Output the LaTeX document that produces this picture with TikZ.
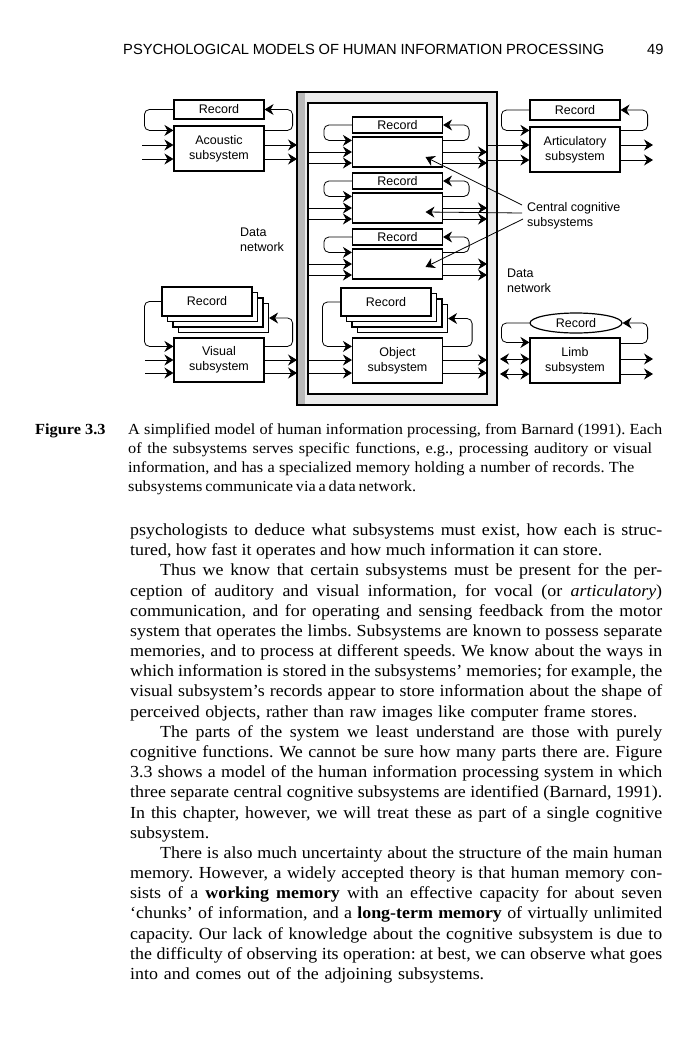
\documentclass[tikz,border=0pt]{standalone}
\usepackage{fontspec}
\setmainfont{Liberation Serif}[FakeStretch=1.06]
\setsansfont{Liberation Sans}
\usetikzlibrary{arrows.meta,calc,shapes.geometric}
\frenchspacing
\newcommand\diagf{\fontsize{12.5}{15}\selectfont\sffamily}
\newcommand\bodyf{\fontsize{16.9}{20}\selectfont}
\newcommand\capf{\fontsize{15.4}{19}\selectfont}
\newcommand\BL[1]{\makebox[532pt][s]{#1}}
\begin{document}
\begin{tikzpicture}[x=1pt,y=-1pt,
  bx/.style={draw, line width=1.2pt, fill=white, minimum width=90pt, inner sep=0pt, font=\diagf, align=center},
  sh/.style={draw, line width=1.2pt, fill=white, minimum width=90pt, inner sep=0pt},
  ln/.style={line width=0.8pt},
  tip/.tip={Stealth[length=9pt,width=11pt,inset=3pt]},
  ar/.style={ln, -tip},
  dar/.style={ln, tip-tip},
  lp/.style={ln, -tip, rounded corners=5pt},
  dlbl/.style={font=\diagf, align=left, inner sep=0pt, anchor=west},
  bodyl/.style={anchor=base west, inner sep=0pt, font=\bodyf},
  capl/.style={anchor=base west, inner sep=0pt, font=\capf}]
\useasboundingbox (0,0) rectangle (700,1039);
\fill[white] (0,0) rectangle (700,1039);

% header
\node[anchor=base west, inner sep=0pt, font=\fontsize{14.7}{16}\selectfont\sffamily] (hd) at (123,54) {\makebox[481pt][s]{PSYCHOLOGICAL MODELS OF HUMAN INFORMATION PROCESSING}};
\node[anchor=base west, inner sep=0pt, font=\fontsize{14.7}{16}\selectfont\sffamily] (pg) at (647,54) {49};

% central frame
\fill[gray!16] (297,92) rectangle (497,405);
\fill[gray!55] (297,92) rectangle (305,405);
\draw[line width=1.2pt] (297,92) rectangle (497,405);
\node[draw, line width=1.2pt, fill=white, minimum width=179pt, minimum height=291pt, inner sep=0pt] (inner) at (397.5,248.5) {};

% ---------- Acoustic ----------
\node[bx, minimum height=19pt] (acr) at (219,109.5) {Record};
\node[bx, minimum height=45pt] (ac) at (219,148.5) {Acoustic\\subsystem};
\coordinate (aci1) at (142,145); \coordinate (aci2) at (142,159);
\coordinate (aco1) at (297,145); \coordinate (aco2) at (297,159);
\draw[lp] (acr.west) -- ++(-29,0) |- ($(ac.north west)+(0,5)$);
\draw[ar] (aci1) -- (aci1 -| ac.west);
\draw[ar] (aci2) -- (aci2 -| ac.west);
\draw[ar] (ac.east |- aco1) -- (aco1);
\draw[ar] (ac.east |- aco2) -- (aco2);
\draw[lp] ($(ac.north east)+(0,5)$) -- ++(28,0) |- (acr.east);

% ---------- Articulatory ----------
\node[bx, minimum height=20pt] (atr) at (575,110) {Record};
\node[bx, minimum height=45pt] (at) at (575,149.5) {Articulatory\\subsystem};
\coordinate (ati1) at (498,145); \coordinate (ati2) at (498,160);
\coordinate (ato1) at (653,145); \coordinate (ato2) at (653,160);
\draw[lp] (atr.west) -- ++(-28,0) |- ($(at.north west)+(0,4)$);
\draw[ln] (ati1) -- (ati1 -| inner.east);
\draw[ln] (ati2) -- (ati2 -| inner.east);
\draw[ar] (ati1) -- (ati1 -| at.west);
\draw[ar] (ati2) -- (ati2 -| at.west);
\draw[ar] (at.east |- ato1) -- (ato1);
\draw[ar] (at.east |- ato2) -- (ato2);
\draw[lp] ($(at.north east)+(0,4)$) -- ++(27,0) |- (atr.east);

% ---------- Central subsystems ----------
\foreach \n/\ry in {1/125, 2/181, 3/237} {
  \node[bx, minimum height=16pt] (c\n r) at (397.5,\ry) {Record};
  \node[bx, minimum height=30pt] (c\n) at (397.5,\ry+27) {};
  \draw[lp] (c\n r.west) -- ++(-28,0) |- ($(c\n.north west)+(0,4)$);
  \coordinate (c\n i1) at (308,\ry+27);
  \coordinate (c\n i2) at (308,\ry+38);
  \coordinate (c\n o1) at (487,\ry+27);
  \coordinate (c\n o2) at (487,\ry+38);
  \draw[ar] (c\n i1) -- (c\n i1 -| c\n.west);
  \draw[ar] (c\n i2) -- (c\n i2 -| c\n.west);
  \draw[ar] (c\n.east |- c\n o1) -- (c\n o1);
  \draw[ar] (c\n.east |- c\n o2) -- (c\n o2);
  \draw[lp] ($(c\n.north east)+(0,4)$) -- ++(26,0) |- (c\n r.east);
}

% central cognitive label and pointers
\node[dlbl] (ccl) at (527,215.5) {Central cognitive\\subsystems};
\coordinate (cc1) at (522,205); \coordinate (cc2) at (522,213); \coordinate (cc3) at (523,219);
\draw[ar] (cc1) -- ($(c1.center)+(28,5)$);
\draw[ar] (cc2) -- ($(c2.center)+(28,4)$);
\draw[ar] (cc3) -- ($(c3.center)+(28,3)$);

% ---------- Object ----------
\node[sh, minimum height=28pt] (or3) at (402.5,318.5) {};
\node[sh, minimum height=28pt] (or2) at (397,313) {};
\node[sh, minimum height=28pt] (or1) at (391.5,307.5) {};
\node[bx, minimum height=28pt] (or) at (386,302) {Record};
\node[bx, minimum height=45pt] (ob) at (397.5,360.5) {Object\\subsystem};
\coordinate (obi1) at (308,360); \coordinate (obi2) at (308,373);
\coordinate (obo1) at (487,360); \coordinate (obo2) at (487,373);
\draw[lp] (or.west) -- ++(-18,0) |- ($(ob.north west)+(0,9)$);
\draw[ar] (obi1) -- (obi1 -| ob.west);
\draw[ar] (obi2) -- (obi2 -| ob.west);
\draw[ar] (ob.east |- obo1) -- (obo1);
\draw[ar] (ob.east |- obo2) -- (obo2);
\draw[lp] ($(ob.north east)+(0,9)$) -- ++(29,0) |- (or3.east);

% ---------- Visual ----------
\node[sh, minimum height=29pt] (vr3) at (223.5,318) {};
\node[sh, minimum height=29pt] (vr2) at (218,312.5) {};
\node[sh, minimum height=29pt] (vr1) at (212.5,307) {};
\node[bx, minimum height=29pt] (vr) at (207,301.5) {Record};
\node[bx, minimum height=44pt] (vi) at (219,360) {Visual\\subsystem};
\coordinate (vii1) at (145,360); \coordinate (vii2) at (145,373);
\coordinate (vio1) at (297,360); \coordinate (vio2) at (297,373);
\draw[lp] (vr.west) -- ++(-17,0) |- ($(vi.north west)+(0,9)$);
\draw[ar] (vii1) -- (vii1 -| vi.west);
\draw[ar] (vii2) -- (vii2 -| vi.west);
\draw[ar] (vi.east |- vio1) -- (vio1);
\draw[ar] (vi.east |- vio2) -- (vio2);
\draw[lp] ($(vi.north east)+(0,9)$) -- ++(28,0) |- (vr3.east);

% ---------- Limb ----------
\node[draw, ellipse, line width=1.2pt, fill=white, minimum width=92pt, minimum height=20pt, inner sep=0pt, font=\diagf] (lr) at (576,323) {Record};
\node[bx, minimum height=45pt] (li) at (575,360.5) {Limb\\subsystem};
\coordinate (lii1) at (500,359); \coordinate (lii2) at (500,374);
\coordinate (lio1) at (653,359); \coordinate (lio2) at (653,374);
\draw[lp] (lr.west) -- ++(-28,0) |- ($(li.north west)+(0,5)$);
\draw[dar] (lii1) -- (lii1 -| li.west);
\draw[dar] (lii2) -- (lii2 -| li.west);
\draw[ar] (li.east |- lio1) -- (lio1);
\draw[ar] (li.east |- lio2) -- (lio2);
\draw[lp] ($(li.north east)+(0,6)$) -- ++(27,0) |- (lr.east);

% data network labels
\node[dlbl] (dn1) at (240,239.5) {Data\\network};
\node[dlbl] (dn2) at (507,280.5) {Data\\network};

% ---------- caption ----------
\node[capl, font=\capf\bfseries] (figl) at (35,434) {Figure 3.3};
\node[capl] (cap1) at (128,434) {\makebox[534pt][s]{A simplified model of human information processing, from Barnard (1991). Each}};
\node[capl] (cap2) at (128,453) {\makebox[524pt][s]{of the subsystems serves specific functions, e.g., processing auditory or visual}};
\node[capl] (cap3) at (128,472) {\makebox[506pt][s]{information, and has a specialized memory holding a number of records. The}};
\node[capl] (cap4) at (128,491) {\makebox[277pt][s]{subsystems communicate via a data network.}};

% ---------- body ----------
\node[bodyl] (b0) at (130,535.5) {\BL{psychologists to deduce what subsystems must exist, how each is struc-}};
\node[bodyl] (b1) at (130,555.7) {\makebox[472pt][s]{tured, how fast it operates and how much information it can store.}};
\node[bodyl] (b2) at (130,575.9) {\BL{\hspace*{30pt}Thus we know that certain subsystems must be present for the per-}};
\node[bodyl] (b3) at (130,596.0) {\BL{ception of auditory and visual information, for vocal (or \textit{articulatory})}};
\node[bodyl] (b4) at (130,616.2) {\BL{communication, and for operating and sensing feedback from the motor}};
\node[bodyl] (b5) at (130,636.4) {\BL{system that operates the limbs. Subsystems are known to possess separate}};
\node[bodyl] (b6) at (130,656.6) {\BL{memories, and to process at different speeds. We know about the ways in}};
\node[bodyl] (b7) at (130,676.8) {\BL{which information is stored in the subsystems’ memories; for example, the}};
\node[bodyl] (b8) at (130,696.9) {\BL{visual subsystem’s records appear to store information about the shape of}};
\node[bodyl] (b9) at (130,717.1) {\makebox[507pt][s]{perceived objects, rather than raw images like computer frame stores.}};
\node[bodyl] (b10) at (130,737.3) {\BL{\hspace*{30pt}The parts of the system we least understand are those with purely}};
\node[bodyl] (b11) at (130,757.5) {\BL{cognitive functions. We cannot be sure how many parts there are. Figure}};
\node[bodyl] (b12) at (130,777.7) {\BL{3.3 shows a model of the human information processing system in which}};
\node[bodyl] (b13) at (130,797.8) {\BL{three separate central cognitive subsystems are identified (Barnard, 1991).}};
\node[bodyl] (b14) at (130,818.0) {\BL{In this chapter, however, we will treat these as part of a single cognitive}};
\node[bodyl] (b15) at (130,838.2) {subsystem.};
\node[bodyl] (b16) at (130,858.4) {\BL{\hspace*{30pt}There is also much uncertainty about the structure of the main human}};
\node[bodyl] (b17) at (130,878.6) {\BL{memory. However, a widely accepted theory is that human memory con-}};
\node[bodyl] (b18) at (130,898.7) {\BL{sists of a \textbf{working memory} with an effective capacity for about seven}};
\node[bodyl] (b19) at (130,918.9) {\BL{‘chunks’ of information, and a \textbf{long-term memory} of virtually unlimited}};
\node[bodyl] (b20) at (130,939.1) {\BL{capacity. Our lack of knowledge about the cognitive subsystem is due to}};
\node[bodyl] (b21) at (130,959.3) {\BL{the difficulty of observing its operation: at best, we can observe what goes}};
\node[bodyl] (b22) at (130,979.5) {\makebox[354pt][s]{into and comes out of the adjoining subsystems.}};
\end{tikzpicture}
\end{document}
